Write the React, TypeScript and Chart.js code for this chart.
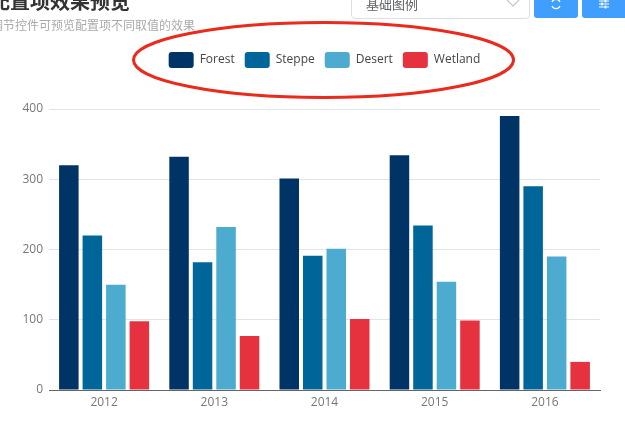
import React, { useEffect, useRef } from "react";
import { Chart, registerables } from "chart.js";

Chart.register(...registerables);

const categories = ["2012", "2013", "2014", "2015", "2016"];
const forest = [320, 332, 301, 334, 390];
const steppe = [220, 182, 191, 234, 290];
const desert = [150, 232, 201, 154, 190];
const wetland = [98, 77, 101, 99, 40];
const yTicks = [0, 100, 200, 300, 400];

const FONT = '"Open Sans", "Noto Sans", sans-serif';
const CJK = '"Noto Sans CJK SC", sans-serif';

export default function App() {
  const ref = useRef<HTMLCanvasElement | null>(null);

  useEffect(() => {
    if (!ref.current) return;
    const mk = (label: string, data: number[], color: string) => ({
      label,
      data,
      backgroundColor: color,
      borderWidth: 0,
      categoryPercentage: 0.853,
      barPercentage: 0.83,
    });
    const chart = new Chart(ref.current, {
      type: "bar",
      data: {
        labels: categories,
        datasets: [
          mk("Forest", forest, "#003366"),
          mk("Steppe", steppe, "#006699"),
          mk("Desert", desert, "#4cabce"),
          mk("Wetland", wetland, "#e5323e"),
        ],
      },
      options: {
        animation: false,
        responsive: false,
        events: [],
        layout: { padding: { top: 42, right: 25, left: 0, bottom: 0 } },
        plugins: {
          tooltip: { enabled: false },
          legend: {
            position: "top",
            align: "center",
            labels: {
              boxWidth: 25,
              boxHeight: 16,
              padding: 10,
              color: "#444",
              font: { family: FONT, size: 12 },
              useBorderRadius: true,
              borderRadius: 3,
            },
          },
        },
        scales: {
          x: {
            grid: { display: false, drawTicks: false },
            border: { color: "#666", width: 1 },
            ticks: { color: "#777", font: { family: FONT, size: 12 }, padding: 5, maxRotation: 0 },
            afterFit: (s: any) => {
              s.height = 50;
            },
          },
          y: {
            min: 0,
            max: 400,
            afterBuildTicks: (s: any) => {
              s.ticks = yTicks.map((value) => ({ value }));
            },
            grid: { color: "#e0e4ea", drawTicks: false },
            border: { display: false },
            ticks: { color: "#777", font: { family: FONT, size: 12 }, padding: 6 },
            afterFit: (s: any) => {
              s.width = 49;
            },
          },
        },
      },
      plugins: [
        {
          id: "legendPlacement",
          beforeInit(c: any) {
            const fit = c.legend.fit;
            c.legend.fit = function () {
              fit.call(this);
              this.height += 31;
            };
          },
          afterLayout(c: any) {
            c.legend.left = c.chartArea.left;
          },
        },
      ],
    } as any);
    return () => chart.destroy();
  }, []);

  return (
    <div style={{ position: "fixed", left: 0, top: 0, width: 625, height: 440, overflow: "hidden", background: "#fff" }}>
      <canvas ref={ref} width={625} height={440} style={{ position: "absolute", left: 0, top: 0, display: "block" }} />
      <div style={{ position: "absolute", left: -10, top: -13, font: `bold 20px/28px ${CJK}`, color: "#333", whiteSpace: "nowrap" }}>配置项效果预览</div>
      <div style={{ position: "absolute", left: -9, top: 17, font: `12px/16px ${CJK}`, color: "#aaa", whiteSpace: "nowrap" }}>调节控件可预览配置项不同取值的效果</div>
      <div style={{ position: "absolute", left: 351, top: -20, width: 179, height: 39, border: "1px solid #dcdfe6", borderRadius: 4, boxSizing: "border-box" }}>
        <div style={{ position: "absolute", left: 14, top: 13, font: `13px/20px ${CJK}`, color: "#606266" }}>基础图例</div>
        <svg style={{ position: "absolute", left: 153, top: 18 }} width="16" height="10">
          <path d="M2 1 L8 7 L14 1" fill="none" stroke="#c0c4cc" strokeWidth="1.2" />
        </svg>
      </div>
      <div style={{ position: "absolute", left: 534, top: -20, width: 44, height: 38, background: "#409eff", borderRadius: 3 }}>
        <svg style={{ position: "absolute", left: 16, top: 18 }} width="12" height="12" viewBox="0 0 12 12">
          <path d="M10 4 A4.4 4.4 0 0 0 2 4 M2 8 A4.4 4.4 0 0 0 10 8" fill="none" stroke="#fff" strokeWidth="1.3" />
        </svg>
      </div>
      <div style={{ position: "absolute", left: 582, top: -20, width: 50, height: 38, background: "#409eff", borderRadius: 3 }}>
        <svg style={{ position: "absolute", left: 16, top: 18 }} width="12" height="12" viewBox="0 0 12 12">
          <path d="M1 3 H11 M1 6 H11 M1 9 H11" stroke="#fff" strokeWidth="1.1" />
          <path d="M7.5 1.5 V4.5 M4 4.5 V7.5 M7.5 7.5 V10.5" stroke="#fff" strokeWidth="1.6" />
        </svg>
      </div>
      <svg style={{ position: "absolute", left: 0, top: 0, pointerEvents: "none" }} width="625" height="440">
        <ellipse cx="323.5" cy="60" rx="190" ry="37.5" fill="none" stroke="#ea2a1c" strokeWidth="3" />
      </svg>
    </div>
  );
}
